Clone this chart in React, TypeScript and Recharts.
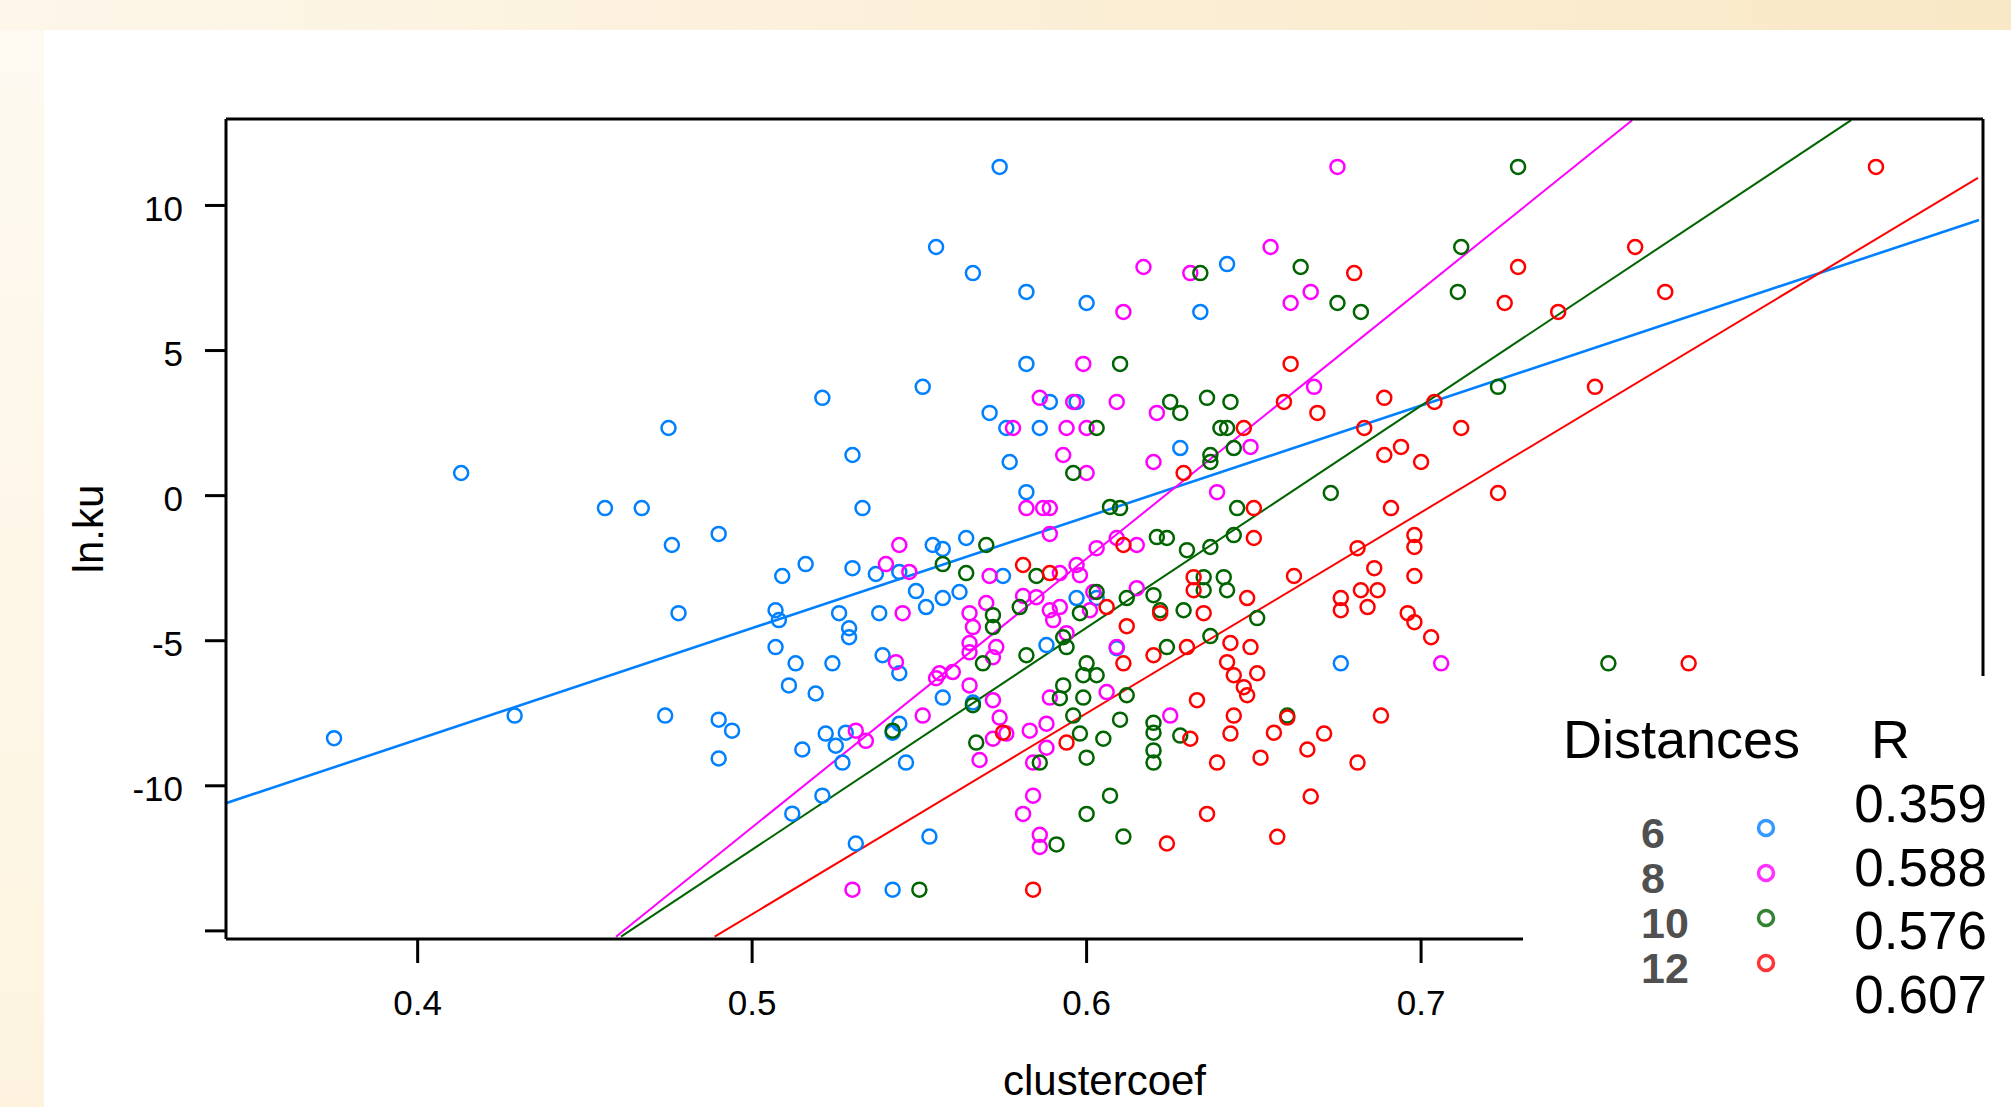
import React from "react";
import { ScatterChart, Scatter, XAxis, YAxis, ReferenceLine } from "recharts";

const X_DOMAIN = [0.3427, 0.868];
const Y_DOMAIN = [-15.28, 12.98];
const X_TICKS = [0.4, 0.5, 0.6, 0.7, 0.8];
const Y_TICKS = [-15, -10, -5, 0, 5, 10];

const distances = ["6", "8", "10", "12"];
const rValues = ["0.359", "0.588", "0.576", "0.607"];
const colors = ["#0080ff", "#ff00ff", "#006400", "#ff0000"];

// clustercoef, ln.ku
const d6 = [
  [0.574, 11.33], [0.555, 8.57], [0.566, 7.67], [0.582, 7.02], [0.6, 6.64], [0.642, 7.98], [0.634, 6.33],
  [0.582, 4.54], [0.551, 3.75], [0.521, 3.37], [0.571, 2.85], [0.586, 2.33], [0.475, 2.33], [0.53, 1.4],
  [0.413, 0.78], [0.577, 1.16], [0.582, 0.12], [0.456, -0.43], [0.467, -0.43], [0.533, -0.43], [0.589, 3.23],
  [0.597, 3.23], [0.576, 2.33], [0.628, 1.64], [0.49, -1.32], [0.476, -1.7], [0.564, -1.46], [0.554, -1.7],
  [0.557, -1.84], [0.516, -2.36], [0.509, -2.77], [0.53, -2.5], [0.537, -2.7], [0.544, -2.63], [0.575, -2.77],
  [0.549, -3.29], [0.557, -3.53], [0.562, -3.32], [0.552, -3.84], [0.526, -4.05], [0.538, -4.05], [0.507, -3.95],
  [0.508, -4.29], [0.529, -4.57], [0.529, -4.88], [0.507, -5.22], [0.513, -5.78], [0.524, -5.78], [0.539, -5.5],
  [0.544, -6.12], [0.511, -6.54], [0.519, -6.82], [0.557, -6.96], [0.566, -7.13], [0.478, -4.05], [0.597, -3.53],
  [0.603, -3.53], [0.588, -5.15], [0.609, -5.26], [0.676, -5.78], [0.429, -7.58], [0.474, -7.58], [0.375, -8.36],
  [0.49, -7.72], [0.494, -8.1], [0.49, -9.06], [0.522, -8.2], [0.528, -8.17], [0.525, -8.62], [0.515, -8.75],
  [0.527, -9.2], [0.544, -7.86], [0.542, -8.17], [0.546, -9.2], [0.521, -10.34], [0.512, -10.96], [0.531, -11.99],
  [0.553, -11.75], [0.542, -13.58],
];

const d8 = [
  [0.675, 11.33], [0.655, 8.57], [0.617, 7.88], [0.631, 7.67], [0.667, 7.02], [0.661, 6.64], [0.611, 6.33],
  [0.599, 4.54], [0.586, 3.37], [0.596, 3.23], [0.609, 3.23], [0.621, 2.85], [0.578, 2.33], [0.594, 2.33],
  [0.6, 2.33], [0.593, 1.4], [0.62, 1.16], [0.6, 0.78], [0.582, -0.43], [0.587, -0.43], [0.589, -0.43],
  [0.589, -1.32], [0.544, -1.7], [0.54, -2.36], [0.547, -2.63], [0.571, -2.77], [0.603, -1.81], [0.609, -1.46],
  [0.615, -1.7], [0.597, -2.39], [0.598, -2.74], [0.592, -2.67], [0.545, -4.05], [0.565, -4.05], [0.57, -3.7],
  [0.581, -3.46], [0.585, -3.5], [0.589, -3.95], [0.592, -3.84], [0.59, -4.29], [0.602, -3.32], [0.601, -3.95],
  [0.615, -3.19], [0.566, -4.53], [0.594, -4.74], [0.565, -5.08], [0.573, -5.22], [0.565, -5.4], [0.572, -5.57],
  [0.609, -5.22], [0.543, -5.74], [0.556, -6.12], [0.56, -6.08], [0.555, -6.29], [0.565, -6.54], [0.572, -7.05],
  [0.589, -6.96], [0.606, -6.77], [0.551, -7.58], [0.531, -8.1], [0.534, -8.45], [0.574, -7.65], [0.572, -8.38],
  [0.576, -8.2], [0.583, -8.1], [0.588, -7.86], [0.588, -8.69], [0.568, -9.11], [0.584, -9.2], [0.625, -7.58],
  [0.584, -10.34], [0.581, -10.97], [0.586, -11.69], [0.586, -12.11], [0.53, -13.58], [0.668, 3.75],
  [0.649, 1.68], [0.639, 0.12], [0.706, -5.78],
];

const d10 = [
  [0.729, 11.33], [0.634, 7.67], [0.664, 7.88], [0.712, 8.57], [0.675, 6.64], [0.682, 6.33], [0.711, 7.02],
  [0.61, 4.54], [0.723, 3.75], [0.603, 2.33], [0.596, 0.78], [0.607, -0.39], [0.61, -0.43], [0.57, -1.7],
  [0.557, -2.36], [0.564, -2.67], [0.585, -2.77], [0.58, -3.84], [0.572, -4.12], [0.572, -4.53], [0.598, -4.05],
  [0.603, -3.32], [0.612, -3.53], [0.62, -3.43], [0.621, -1.43], [0.593, -4.88], [0.594, -5.22], [0.582, -5.5],
  [0.569, -5.78], [0.6, -5.78], [0.599, -6.19], [0.603, -6.19], [0.593, -6.54], [0.592, -6.98], [0.599, -6.96],
  [0.612, -6.88], [0.566, -7.22], [0.625, 3.23], [0.636, 3.37], [0.643, 3.23], [0.628, 2.85], [0.64, 2.33],
  [0.642, 2.33], [0.637, 1.4], [0.637, 1.16], [0.644, 1.64], [0.673, 0.09], [0.645, -0.43], [0.624, -1.46],
  [0.63, -1.88], [0.637, -1.77], [0.644, -1.36], [0.635, -2.81], [0.641, -2.81], [0.635, -3.26], [0.642, -3.26],
  [0.629, -3.95], [0.622, -3.95], [0.651, -4.22], [0.637, -4.84], [0.624, -5.22], [0.756, -5.78], [0.596, -7.58],
  [0.598, -8.2], [0.605, -8.38], [0.61, -7.72], [0.62, -7.83], [0.62, -8.17], [0.628, -8.27], [0.62, -8.78],
  [0.62, -9.2], [0.542, -8.1], [0.567, -8.51], [0.586, -9.2], [0.6, -9.03], [0.607, -10.34], [0.6, -10.97],
  [0.611, -11.75], [0.591, -12.02], [0.55, -13.58], [0.66, -7.58],
];

const d12 = [
  [0.836, 11.33], [0.764, 8.57], [0.68, 7.67], [0.729, 7.88], [0.725, 6.64], [0.741, 6.33], [0.773, 7.02],
  [0.752, 3.75], [0.661, 4.54], [0.659, 3.23], [0.689, 3.37], [0.669, 2.85], [0.704, 3.23], [0.647, 2.33],
  [0.683, 2.33], [0.712, 2.33], [0.689, 1.4], [0.694, 1.68], [0.7, 1.16], [0.629, 0.78], [0.65, -0.43],
  [0.691, -0.43], [0.723, 0.09], [0.65, -1.46], [0.681, -1.81], [0.698, -1.36], [0.698, -1.77], [0.662, -2.77],
  [0.686, -2.5], [0.698, -2.77], [0.632, -2.81], [0.632, -3.26], [0.648, -3.53], [0.676, -3.53], [0.676, -3.95],
  [0.682, -3.26], [0.687, -3.26], [0.684, -3.84], [0.622, -4.05], [0.635, -4.05], [0.696, -4.05], [0.698, -4.36],
  [0.703, -4.88], [0.63, -5.22], [0.649, -5.22], [0.643, -5.08], [0.62, -5.5], [0.642, -5.74], [0.644, -6.19],
  [0.651, -6.12], [0.647, -6.6], [0.648, -6.88], [0.633, -7.05], [0.78, -5.78], [0.611, -1.7], [0.581, -2.39],
  [0.589, -2.67], [0.606, -3.84], [0.612, -4.5], [0.611, -5.78], [0.644, -7.58], [0.643, -8.2], [0.656, -8.17],
  [0.66, -7.65], [0.671, -8.2], [0.666, -8.75], [0.688, -7.58], [0.681, -9.2], [0.652, -9.03], [0.639, -9.2],
  [0.631, -8.38], [0.575, -8.17], [0.594, -8.51], [0.667, -10.37], [0.636, -10.97], [0.657, -11.76],
  [0.624, -11.99], [0.584, -13.58],
];

const fit6 = [[0.3427, -10.6], [0.8668, 9.5]];
const fit8 = [[0.4593, -15.2], [0.7631, 12.94]];
const fit10 = [[0.4608, -15.2], [0.8286, 12.94]];
const fit12 = [[0.4888, -15.2], [0.8665, 10.95]];

const groups = [d6, d8, d10, d12];
const fits = [fit6, fit8, fit10, fit12];
const fitWidths = [2.6, 2, 2, 2];

const font = "'Liberation Sans', Arial, sans-serif";
const axisStroke = { stroke: "#000", strokeWidth: 3 };

function ring(color: string) {
  return (p: any) => <circle cx={p.cx} cy={p.cy} r={7} fill="none" stroke={color} strokeWidth={2.5} />;
}

export default function App() {
  return (
    <div style={{ position: "absolute", left: 0, top: 0, width: 2011, height: 1107, fontFamily: font, background: "linear-gradient(90deg, #fdf6e9, #f9e8c6)" }}>
      <div style={{ position: "absolute", left: 0, top: 30, width: 44, bottom: 0, background: "linear-gradient(180deg, #fefaf1, #fdf3df)" }} />
      <div style={{ position: "absolute", left: 44, top: 30, right: 0, bottom: 0, background: "#fff" }} />
      <div style={{ position: "absolute", left: 0, top: 0 }}>
        <ScatterChart width={2011} height={1107} margin={{ top: 0, right: 0, bottom: 0, left: 0 }}>
          <XAxis
            xAxisId="b"
            type="number"
            dataKey="x"
            domain={X_DOMAIN}
            allowDataOverflow
            ticks={X_TICKS}
            interval={0}
            height={168}
            tickSize={24}
            tickMargin={27}
            axisLine={axisStroke}
            tickLine={axisStroke}
            tick={{ fontSize: 35, fill: "#000" }}
            label={{ value: "clustercoef", position: "insideBottom", offset: 12, fontSize: 42, fill: "#000" }}
          />
          <XAxis
            xAxisId="t"
            orientation="top"
            type="number"
            domain={X_DOMAIN}
            allowDataOverflow
            ticks={X_TICKS}
            interval={0}
            height={119}
            tickSize={25}
            axisLine={axisStroke}
            tickLine={axisStroke}
            tick={false}
          />
          <YAxis
            yAxisId="l"
            type="number"
            dataKey="y"
            domain={Y_DOMAIN}
            allowDataOverflow
            ticks={Y_TICKS}
            interval={0}
            width={226}
            tickSize={21}
            tickMargin={22}
            axisLine={axisStroke}
            tickLine={axisStroke}
            tickFormatter={(v: number) => (v === -15 ? "" : String(v))}
            tick={{ fontSize: 35, fill: "#000", dy: 3 }}
            label={{ value: "ln.ku", angle: -90, position: "insideLeft", offset: 88, fontSize: 42, fill: "#000", style: { textAnchor: "middle" } }}
          />
          <YAxis
            yAxisId="r"
            orientation="right"
            type="number"
            domain={Y_DOMAIN}
            allowDataOverflow
            ticks={Y_TICKS}
            interval={0}
            width={28}
            tickSize={21}
            axisLine={axisStroke}
            tickLine={axisStroke}
            tick={false}
          />
          {groups.map((g, i) => (
            <Scatter
              key={"s" + i}
              xAxisId="b"
              yAxisId="l"
              data={g.map(([x, y]) => ({ x, y }))}
              shape={ring(colors[i])}
              isAnimationActive={false}
            />
          ))}
          {fits.map((f, i) => (
            <ReferenceLine
              key={"f" + i}
              xAxisId="b"
              yAxisId="l"
              segment={f.map(([x, y]) => ({ x, y }))}
              stroke={colors[i]}
              strokeWidth={fitWidths[i]}
              ifOverflow="hidden"
            />
          ))}
        </ScatterChart>
      </div>
      <svg style={{ position: "absolute", left: 1523, top: 676 }} width={488} height={431}>
        <rect x={0} y={0} width={488} height={431} fill="#fff" />
        <text x={40} y={82} fontSize={54} fill="#000">Distances</text>
        <text x={348} y={82} fontSize={54} fill="#000">R</text>
        {distances.map((d, i) => (
          <g key={d}>
            <text x={118} y={172 + i * 45} fontSize={43} fontWeight="bold" fill="#505050">{d}</text>
            <circle cx={243} cy={152 + i * 45} r={7.5} fill="none" stroke={colors[i]} strokeWidth={3.5} opacity={0.8} />
          </g>
        ))}
        {rValues.map((r, i) => (
          <text key={r} x={464} y={146 + i * 63.7} fontSize={53} fill="#000" textAnchor="end">{r}</text>
        ))}
      </svg>
    </div>
  );
}
